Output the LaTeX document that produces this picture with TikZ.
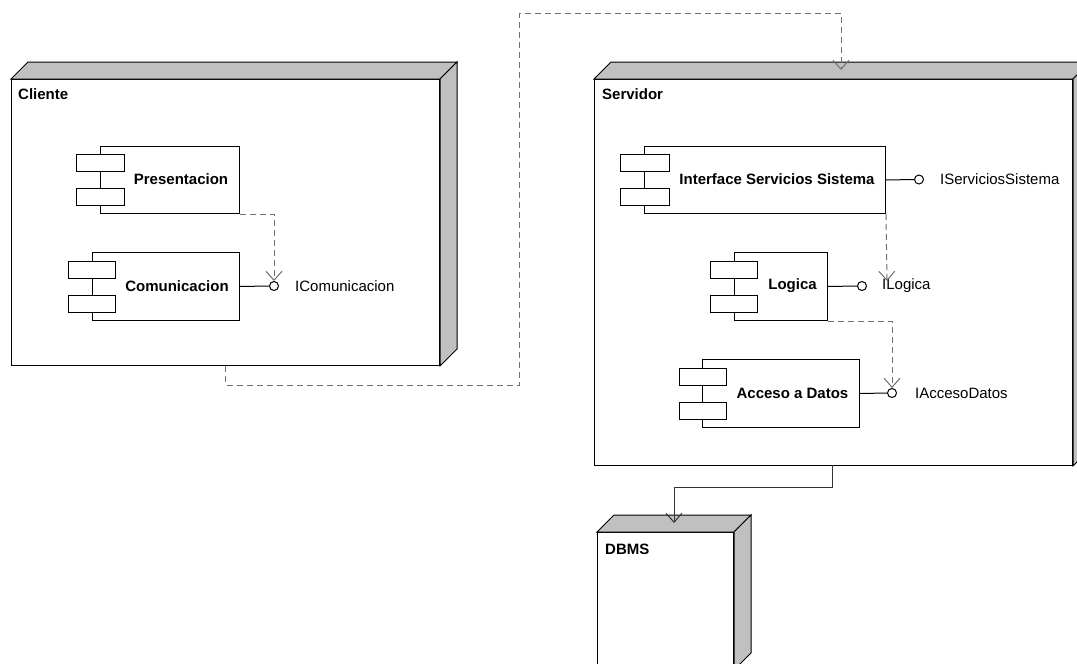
\documentclass[tikz,border=0pt]{standalone}
\usepackage{fontspec}
\setmainfont{Liberation Sans}
\usetikzlibrary{arrows.meta}
\definecolor{nodegray}{HTML}{C0C0C0}
\definecolor{dashgray}{HTML}{707070}
\newcommand\boxfaces[1]{%
  \filldraw[face] (#1.north west) -- ([shift={(17,-17)}]#1.north west) -- ([shift={(17,-17)}]#1.north east) -- (#1.north east) -- cycle;
  \filldraw[face] (#1.north east) -- ([shift={(17,-17)}]#1.north east) -- ([shift={(17,-17)}]#1.south east) -- (#1.south east) -- cycle;}
\begin{document}
\begin{tikzpicture}[x=1pt,y=-1pt,
  front/.style={draw=black, fill=white, line width=1pt, inner sep=0pt, anchor=north west},
  comp/.style={draw=black, fill=white, line width=1pt, inner sep=0pt, anchor=north west},
  port/.style={draw=black, fill=white, line width=1pt, inner sep=0pt, anchor=north west, minimum height=17pt},
  face/.style={fill=nodegray, draw=black, line width=1pt, line join=miter},
  ntitle/.style={font=\fontsize{15}{18}\selectfont\bfseries, anchor=west, inner sep=0pt},
  ctitle/.style={font=\fontsize{15}{18}\selectfont\bfseries, inner sep=0pt},
  ilabel/.style={font=\fontsize{15}{18}\selectfont, anchor=west, inner sep=0pt},
  lolli/.style={circle, draw=black, fill=white, line width=1pt, minimum size=9pt, inner sep=0pt},
  stick/.style={draw=black, line width=1pt},
  dep/.style={draw=dashgray, line width=1pt, dash pattern=on 6pt off 4pt, -{Straight Barb[length=9pt,width=16pt,line width=1pt]}},
  assoc/.style={draw=black!80, line width=1pt, -{Straight Barb[length=9pt,width=16pt,line width=1pt]}}
]
\fill[white] (0,0) rectangle (1077,664);
\clip (0,0) rectangle (1077,664);

% ---------- Cliente ----------
\node[front, minimum width=428pt, minimum height=286pt] (cliente) at (11,79) {};
\boxfaces{cliente}
\node[ntitle] (clienteT) at (18,94) {Cliente};

\node[comp, minimum width=139pt, minimum height=67pt] (pres) at (100,146) {};
\node[port, minimum width=48pt] (presP1) at (76,154) {};
\node[port, minimum width=48pt] (presP2) at (76,188) {};
\node[ctitle] (presT) at (181,179) {Presentacion};

\node[comp, minimum width=147pt, minimum height=68pt] (com) at (92,252) {};
\node[port, minimum width=47pt] (comP1) at (68,261) {};
\node[port, minimum width=47pt] (comP2) at (68,295) {};
\node[ctitle] (comT) at (177,286) {Comunicacion};
\node[lolli] (icom) at (274,286) {};
\node[ilabel] (icomT) at (295,286) {IComunicacion};
\draw[stick] (com.east) -- (icom.west);
\draw[dep] (pres.south east) -| (icom.north);

% ---------- Servidor ----------
\node[front, minimum width=478pt, minimum height=386pt] (serv) at (594,79) {};
\boxfaces{serv}
\node[ntitle] (servT) at (602,94) {Servidor};

\node[comp, minimum width=241pt, minimum height=67pt] (iface) at (644,146) {};
\node[port, minimum width=49pt] (ifaceP1) at (620,154) {};
\node[port, minimum width=49pt] (ifaceP2) at (620,188) {};
\node[ctitle] (ifaceT) at (777,179) {Interface Servicios Sistema};
\node[lolli] (iss) at (919,179.5) {};
\node[ilabel] (issT) at (940,179) {IServiciosSistema};
\draw[stick] (iface.east) -- (iss.west);

\node[comp, minimum width=93pt, minimum height=68pt] (logica) at (734,252) {};
\node[port, minimum width=47pt] (logP1) at (710,261) {};
\node[port, minimum width=47pt] (logP2) at (710,295) {};
\node[ctitle] (logT) at (792.5,286) {Logica};
\node[lolli] (ilog) at (862,286) {};
\node[ilabel] (ilogT) at (882,286) {ILogica};
\draw[stick] (logica.east) -- (ilog.west);

\node[comp, minimum width=157pt, minimum height=68pt] (acc) at (702,359) {};
\node[port, minimum width=47pt] (accP1) at (679,368) {};
\node[port, minimum width=47pt] (accP2) at (679,402) {};
\node[ctitle] (accT) at (792.5,393) {Acceso a Datos};
\node[lolli] (iad) at (892,393) {};
\node[ilabel] (iadT) at (915,393) {IAccesoDatos};
\draw[stick] (acc.east) -- (iad.west);

\coordinate (tipL) at (887,281);
\draw[dep] (iface.south east) -- (tipL);
\draw[dep] (logica.south east) -| (iad.north);

% ---------- DBMS ----------
\node[front, minimum width=136pt, minimum height=137pt] (dbms) at (597,532) {};
\boxfaces{dbms}
\node[ntitle] (dbmsT) at (605,549) {DBMS};

% ---------- inter-node connectors ----------
\coordinate (svin) at (841,70);
\draw[dep] (cliente.south) |- (519,385) -- (519,13) -| (svin);

\coordinate (svout) at (832,465);
\coordinate (dbin) at (674,523);
\draw[assoc] (svout) |- (674,487) -- (dbin);
\end{tikzpicture}
\end{document}
